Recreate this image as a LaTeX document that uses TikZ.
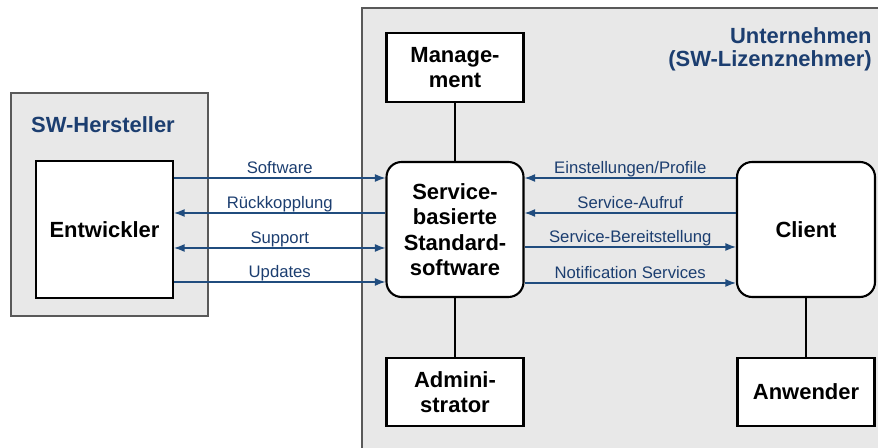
\documentclass[tikz,border=0pt]{standalone}
\usepackage{fontspec}
\setmainfont{Liberation Sans}
\usetikzlibrary{backgrounds,arrows.meta}

\definecolor{swblue}{RGB}{28,62,112}
\definecolor{swline}{RGB}{32,76,126}

\begin{document}
\begin{tikzpicture}
		[x=0.02cm,y=-0.02cm,
		 box/.style={draw=black,line width=1.2pt,fill=white,align=center,inner sep=0pt,
		   minimum width=2.74cm,font=\fontsize{12.5}{14.5}\selectfont\bfseries},
		 rbox/.style={box,rounded corners=0.3cm,minimum height=2.7cm},
		 grp/.style={draw=black!65,line width=0.6pt,fill=black!9},
		 ttl/.style={text=swblue,inner sep=0pt,font=\fontsize{12.5}{13}\selectfont\bfseries},
		 flow/.style={draw=swline,line width=0.7pt,-{Latex[length=6pt,width=4.5pt]}},
		 lbl/.style={midway,anchor=base,yshift=2.5pt,inner sep=0pt,text=swblue,
		   font=\fontsize{9.5}{11}\selectfont}]

		\clip (0,0) rectangle (878,448);

		% the two organisations
		\draw[grp] (11,93) rectangle (208,316);
		\draw[grp] (362,8) rectangle (890,460);

		\node[ttl,anchor=base] (hst) at (103,133) {SW-Hersteller};
		\node[ttl,anchor=north east,align=right] (unt) at (872,27)
			{Unternehmen\\(SW-Lizenznehmer)};

		% roles and systems
		\node[box,minimum height=2.74cm] (ent) at (104.5,229.5) {Entwickler};
		\node[box,minimum height=1.38cm] (mgmt) at (455,67.5) {Manage-\\ment};
		\node[rbox] (svc) at (455,229.5) {Service-\\basierte\\Standard-\\software};
		\node[box,minimum height=1.36cm] (adm) at (455,392) {Admini-\\strator};
		\node[rbox,minimum width=2.76cm] (cli) at (806,229.5) {Client};
		\node[box,minimum height=1.36cm] (anw) at (806,392) {Anwender};

		\draw[line width=1.2pt] (mgmt) -- (svc);
		\draw[line width=1.2pt] (svc) -- (adm);
		\draw[line width=1.2pt] (cli) -- (anw);

		% manufacturer side
		\draw[flow] ([yshift=1.03cm]ent.east) -- ([yshift=1.03cm]svc.west)
			node[lbl] {Software};
		\draw[flow] ([yshift=0.33cm]svc.west) -- ([yshift=0.33cm]ent.east)
			node[lbl] {Rückkopplung};
		\draw[flow,{Latex[length=6pt,width=4.5pt]}-{Latex[length=6pt,width=4.5pt]}]
			([yshift=-0.37cm]ent.east) -- ([yshift=-0.37cm]svc.west)
			node[lbl] {Support};
		\draw[flow] ([yshift=-1.05cm]ent.east) -- ([yshift=-1.05cm]svc.west)
			node[lbl] {Updates};

		% client side
		\draw[flow] ([yshift=1.03cm]cli.west) -- ([yshift=1.03cm]svc.east)
			node[lbl] {Einstellungen/Profile};
		\draw[flow] ([yshift=0.33cm]cli.west) -- ([yshift=0.33cm]svc.east)
			node[lbl] {Service-Aufruf};
		\draw[flow] ([yshift=-0.35cm]svc.east) -- ([yshift=-0.35cm]cli.west)
			node[lbl] {Service-Bereitstellung};
		\draw[flow] ([yshift=-1.07cm]svc.east) -- ([yshift=-1.07cm]cli.west)
			node[lbl] {Notification Services};

	\end{tikzpicture}
\end{document}
